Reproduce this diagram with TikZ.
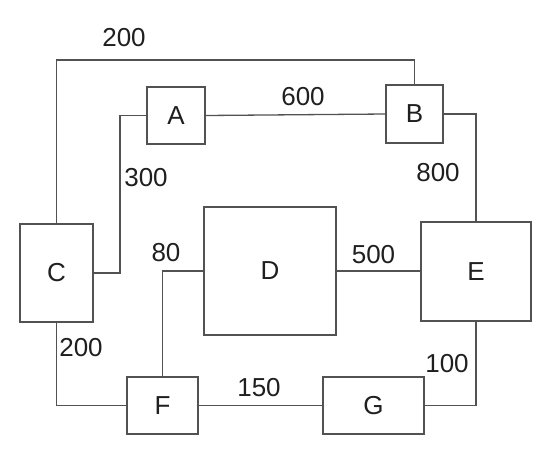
\documentclass[tikz,border=0pt]{standalone}
\usepackage{fontspec}
\setmainfont{Liberation Sans}
\begin{document}
\begin{tikzpicture}[x=1pt,y=-1pt,
  line/.style={draw=black!68, line width=1.3pt},
  boxnode/.style={line, fill=white, inner sep=0pt, font=\fontsize{26}{30}\selectfont, text=black!88},
  lbl/.style={inner sep=0pt, font=\fontsize{26}{30}\selectfont, text=black!88}]
\useasboundingbox (0,0) rectangle (559,464);
\node[boxnode, minimum width=58pt, minimum height=57pt] (A) at (176,115.5) {A};
\node[boxnode, minimum width=57pt, minimum height=58pt] (B) at (414.5,114) {B};
\node[boxnode, minimum width=73pt, minimum height=98pt] (C) at (56.5,273) {C};
\node[boxnode, minimum width=132pt, minimum height=128pt] (D) at (270,271) {D};
\node[boxnode, minimum width=110pt, minimum height=99pt] (E) at (476,271.5) {E};
\node[boxnode, minimum width=71pt, minimum height=57pt] (F) at (162.5,405.5) {F};
\node[boxnode, minimum width=101pt, minimum height=57pt] (G) at (373.5,405.5) {G};
\coordinate (top) at (0,60);
\coordinate (acx) at (120,0);
\draw[line] (C.north) -- (C.north |- top) -| (B.north);
\draw[line] (A.west) -| (acx |- C.east) -- (C.east);
\draw[line] (A.east) -- (B.west);
\draw[line] (B.east) -| (E.north);
\draw[line] (D.east) -- (D.east -| E.west);
\draw[line] (D.west) -| (F.north);
\draw[line] (C.south) |- (F.west);
\draw[line] (F.east) -- (G.west);
\draw[line] (G.east) -| (E.south);
\node[lbl] (l1) at (124,38) {200};
\node[lbl] (l2) at (303,97) {600};
\node[lbl] (l3) at (146,178) {300};
\node[lbl] (l4) at (438,173) {800};
\node[lbl] (l5) at (166,253) {80};
\node[lbl] (l6) at (373.5,255) {500};
\node[lbl] (l7) at (81,348) {200};
\node[lbl] (l8) at (259,388) {150};
\node[lbl] (l9) at (447,364) {100};
\end{tikzpicture}
\end{document}
